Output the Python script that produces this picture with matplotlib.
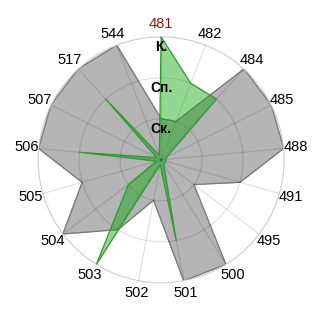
import numpy as np
import matplotlib
matplotlib.use("Agg")
import matplotlib.pyplot as plt

plt.rcParams['font.family'] = ['Liberation Sans', 'DejaVu Sans']

categories = ['481', '482', '484', '485', '488', '491', '495', '500', '501',
              '502', '503', '504', '505', '506', '507', '517', '544']
gray_vals = [1.0, 1.0, 3.0, 3.0, 3.0, 2.0, 1.0, 3.0, 3.0,
             1.0, 2.0, 3.0, 2.0, 3.0, 3.0, 3.0, 3.0]
green_vals = [3.0, 2.0, 2.0, 0.15, 0.12, 0.12, 0.12, 0.12, 2.0,
              0.12, 3.0, 1.0, 0.12, 2.0, 0.12, 2.0, 0.12]
level_vals = [1, 2, 3]
level_labels = ['Ск.', 'Сп.', 'К.']
selected = '481'

n = len(categories)
theta = np.arange(n) * 2 * np.pi / n
th_closed = np.append(theta, theta[0])

fig = plt.figure(figsize=(3.2, 3.2), dpi=100)
ax = fig.add_axes([0.119, 0.116, 0.769, 0.769], projection='polar')
ax.set_theta_zero_location('N')
ax.set_theta_direction(-1)
ax.set_ylim(0, 3)

g = np.append(gray_vals, gray_vals[0])
ax.fill(th_closed, g, color='#b4b4b4', zorder=1)
ax.plot(th_closed, g, color='#7a7a7a', lw=0.9, zorder=2)

gr = np.append(green_vals, green_vals[0])
ax.fill(th_closed, gr, color=(0.05, 0.66, 0.05), alpha=0.45, lw=0, zorder=3)
ax.plot(th_closed, gr, color='#2f9a2f', lw=0.9, zorder=4)

ax.set_xticks(theta)
ax.set_xticklabels([])
ax.set_yticks(level_vals)
ax.set_yticklabels([])
ax.set_axisbelow(False)
ax.grid(True, color='black', alpha=0.13, lw=0.8)
ax.spines['polar'].set_color('#dddddd')
ax.spines['polar'].set_linewidth(0.8)
ax.tick_params(length=0)

for th, lab in zip(theta, categories):
    ax.text(th, 3.3, lab, ha='center', va='center', fontsize=10.5,
            color='#8b1a1a' if lab == selected else 'black', clip_on=False)

for v, lab in zip(level_vals, level_labels):
    ax.text(0, v - 0.07, lab, ha='center', va='top', fontsize=10,
            fontweight='bold', color='black', zorder=6)

fig.savefig('out.png', dpi=100)
